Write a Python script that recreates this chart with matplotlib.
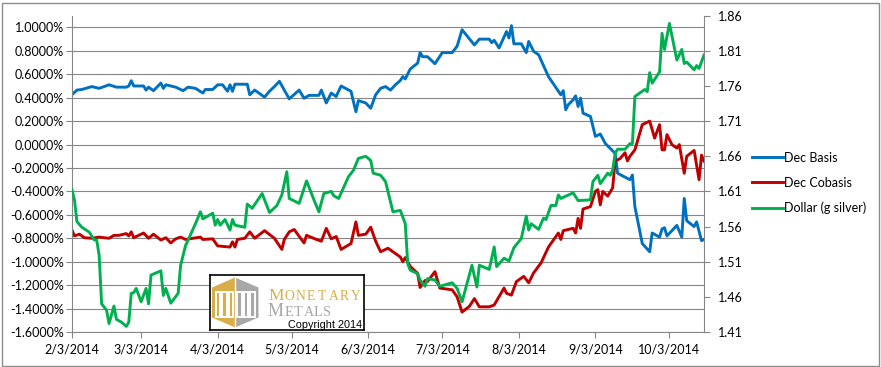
import matplotlib
matplotlib.use("Agg")
import matplotlib.pyplot as plt
from matplotlib.patches import Polygon, Rectangle
import pandas as pd

# Dec basis (percent), left axis
basis_dates = [
    "2/3", "2/5", "2/7", "2/11", "2/14", "2/18", "2/21", "2/25", "2/26", "2/27", "2/28",
    "3/4", "3/5", "3/6", "3/8", "3/11", "3/12", "3/13", "3/15", "3/17", "3/20", "3/22",
    "3/25", "3/28", "3/29", "4/1", "4/3", "4/5", "4/7", "4/8", "4/9", "4/10", "4/15",
    "4/16", "4/18", "4/22", "4/24", "4/26", "4/28", "4/30", "5/2", "5/6", "5/8", "5/10",
    "5/14", "5/15", "5/17", "5/19", "5/21", "5/23", "5/27", "5/29", "5/30", "6/2", "6/4",
    "6/6", "6/8", "6/10", "6/12", "6/14", "6/16", "6/17", "6/18", "6/20", "6/23", "6/24",
    "6/25", "6/27", "6/30", "7/3", "7/7", "7/9", "7/11", "7/16", "7/18", "7/22", "7/23",
    "7/24", "7/26", "7/29", "7/30", "7/31", "8/1", "8/4", "8/6", "8/7", "8/9", "8/11",
    "8/15", "8/20", "8/21", "8/22", "8/23", "8/25", "8/26", "8/27", "8/28", "8/29", "9/1",
    "9/3", "9/5", "9/7", "9/11", "9/12", "9/17", "9/18", "9/19", "9/22", "9/25", "9/26",
    "9/29", "9/30", "10/1", "10/2", "10/6", "10/8", "10/9", "10/10", "10/13", "10/14",
    "10/16", "10/17",
]
basis = [
    0.426, 0.465, 0.47, 0.495, 0.48, 0.51, 0.49, 0.49, 0.50, 0.545, 0.50,
    0.50, 0.465, 0.49, 0.46, 0.525, 0.48, 0.51, 0.50, 0.49, 0.46, 0.49,
    0.48, 0.44, 0.47, 0.47, 0.51, 0.51, 0.455, 0.51, 0.455, 0.515, 0.515,
    0.425, 0.465, 0.405, 0.455, 0.495, 0.54, 0.465, 0.39, 0.465, 0.395, 0.42,
    0.42, 0.465, 0.355, 0.44, 0.41, 0.50, 0.455, 0.28, 0.375, 0.355, 0.31,
    0.425, 0.48, 0.495, 0.465, 0.51, 0.547, 0.58, 0.56, 0.645, 0.695, 0.785,
    0.75, 0.75, 0.69, 0.785, 0.785, 0.84, 0.98, 0.85, 0.90, 0.90, 0.87,
    0.89, 0.825, 0.965, 0.91, 1.015, 0.86, 0.86, 0.785, 0.88, 0.795, 0.767,
    0.58, 0.425, 0.46, 0.297, 0.34, 0.382, 0.416, 0.325, 0.397, 0.268, 0.24,
    0.07, 0.09, 0.01, -0.075, -0.245, -0.30, -0.26, -0.53, -0.845, -0.915, -0.755,
    -0.79, -0.72, -0.71, -0.78, -0.69, -0.79, -0.46, -0.65, -0.70, -0.66,
    -0.82, -0.81,
]

# Dec cobasis (percent), left axis
cobasis_dates = [
    "2/3", "2/4", "2/6", "2/8", "2/11", "2/14", "2/18", "2/20", "2/22", "2/25", "2/26",
    "2/27", "2/28", "3/4", "3/6", "3/8", "3/11", "3/13", "3/15", "3/17", "3/19", "3/21",
    "3/24", "3/27", "3/28", "4/1", "4/3", "4/8", "4/9", "4/10", "4/11", "4/14", "4/16",
    "4/18", "4/22", "4/26", "4/29", "4/30", "5/2", "5/4", "5/8", "5/9", "5/13", "5/15",
    "5/17", "5/19", "5/21", "5/23", "5/27", "5/29", "5/30", "6/2", "6/4", "6/6", "6/8",
    "6/11", "6/14", "6/16", "6/17", "6/18", "6/20", "6/23", "6/24", "6/26", "6/27", "6/30",
    "7/2", "7/7", "7/9", "7/11", "7/14", "7/16", "7/18", "7/22", "7/24", "7/28", "7/29",
    "7/31", "8/2", "8/5", "8/7", "8/9", "8/12", "8/15", "8/18", "8/19", "8/20", "8/21",
    "8/25", "8/26", "8/27", "8/28", "8/29", "9/1", "9/3", "9/4", "9/5", "9/6", "9/8",
    "9/10", "9/11", "9/13", "9/15", "9/16", "9/17", "9/19", "9/22", "9/25", "9/27", "9/29",
    "9/30", "10/1", "10/2", "10/4", "10/6", "10/7", "10/9", "10/10", "10/13", "10/15",
    "10/16", "10/17",
]
cobasis = [
    -0.73, -0.78, -0.765, -0.795, -0.80, -0.79, -0.80, -0.775, -0.775, -0.76, -0.78,
    -0.745, -0.795, -0.755, -0.80, -0.765, -0.815, -0.795, -0.84, -0.805, -0.79, -0.81,
    -0.80, -0.79, -0.81, -0.805, -0.865, -0.875, -0.83, -0.875, -0.81, -0.80, -0.745,
    -0.80, -0.735, -0.80, -0.895, -0.81, -0.745, -0.725, -0.84, -0.775, -0.81, -0.825,
    -0.715, -0.805, -0.785, -0.895, -0.845, -0.66, -0.775, -0.765, -0.705, -0.825, -0.915,
    -0.885, -0.93, -0.96, -1.00, -0.965, -1.04, -1.10, -1.22, -1.16, -1.17, -1.085,
    -1.225, -1.24, -1.30, -1.43, -1.38, -1.315, -1.385, -1.385, -1.37, -1.225, -1.27,
    -1.285, -1.17, -1.125, -1.18, -1.095, -1.01, -0.875, -0.785, -0.755, -0.81, -0.735,
    -0.715, -0.755, -0.63, -0.715, -0.55, -0.53, -0.40, -0.385, -0.515, -0.40, -0.44,
    -0.37, -0.14, -0.12, -0.07, -0.14, -0.10, -0.045, 0.17, 0.20, 0.055, 0.17,
    -0.045, -0.045, 0.085, 0.0, -0.03, 0.0, -0.245, -0.10, -0.05, -0.30,
    -0.09, -0.14,
]

# Dollar priced in grams of silver, right axis
dollar_dates = [
    "2/3", "2/4", "2/5", "2/7", "2/10", "2/12", "2/13", "2/14", "2/15", "2/17", "2/18",
    "2/20", "2/21", "2/23", "2/25", "2/26", "2/27", "2/28", "3/1", "3/3", "3/5", "3/6",
    "3/7", "3/11", "3/12", "3/13", "3/15", "3/18", "3/19", "3/21", "3/25", "3/27", "3/28",
    "4/1", "4/2", "4/3", "4/4", "4/6", "4/8", "4/9", "4/10", "4/14", "4/15", "4/17",
    "4/21", "4/24", "4/27", "4/29", "5/1", "5/2", "5/6", "5/9", "5/12", "5/14", "5/16",
    "5/19", "5/20", "5/22", "5/26", "5/28", "5/30", "6/2", "6/4", "6/5", "6/8", "6/10",
    "6/13", "6/16", "6/18", "6/19", "6/20", "6/23", "6/24", "6/26", "6/27", "6/30", "7/2",
    "7/7", "7/9", "7/11", "7/13", "7/15", "7/17", "7/18", "7/22", "7/24", "7/25", "7/28",
    "7/30", "8/1", "8/4", "8/6", "8/7", "8/8", "8/11", "8/13", "8/14", "8/16", "8/18",
    "8/19", "8/20", "8/25", "8/27", "9/1", "9/2", "9/4", "9/5", "9/8", "9/9", "9/10",
    "9/11", "9/12", "9/15", "9/17", "9/18", "9/19", "9/23", "9/24", "9/25", "9/26", "9/29",
    "9/30", "10/1", "10/3", "10/6", "10/8", "10/9", "10/10", "10/13", "10/14", "10/15",
    "10/17",
]
dollar = [
    1.612, 1.598, 1.567, 1.559, 1.552, 1.541, 1.541, 1.519, 1.45, 1.441, 1.422,
    1.447, 1.428, 1.424, 1.418, 1.424, 1.465, 1.466, 1.472, 1.453, 1.472, 1.45,
    1.491, 1.497, 1.462, 1.472, 1.451, 1.465, 1.505, 1.533, 1.564, 1.581, 1.571,
    1.579, 1.562, 1.57, 1.562, 1.57, 1.555, 1.57, 1.562, 1.559, 1.592, 1.586,
    1.607, 1.58, 1.59, 1.605, 1.638, 1.60, 1.593, 1.625, 1.598, 1.581, 1.607,
    1.61, 1.604, 1.60, 1.631, 1.64, 1.657, 1.66, 1.654, 1.636, 1.633, 1.624,
    1.581, 1.583, 1.564, 1.507, 1.498, 1.493, 1.484, 1.475, 1.486, 1.484, 1.475,
    1.48, 1.472, 1.453, 1.479, 1.505, 1.474, 1.505, 1.499, 1.531, 1.503, 1.515,
    1.511, 1.53, 1.543, 1.575, 1.555, 1.564, 1.556, 1.572, 1.57, 1.59, 1.59,
    1.605, 1.60, 1.608, 1.597, 1.598, 1.624, 1.633, 1.621, 1.636, 1.633, 1.64,
    1.664, 1.67, 1.67, 1.678, 1.678, 1.745, 1.755, 1.752, 1.779, 1.764, 1.78,
    1.835, 1.812, 1.849, 1.797, 1.812, 1.792, 1.794, 1.783, 1.789, 1.785,
    1.804,
]

tick_labels = ["2/3/2014", "3/3/2014", "4/3/2014", "5/3/2014", "6/3/2014",
               "7/3/2014", "8/3/2014", "9/3/2014", "10/3/2014"]
left_ticks = [-1.6, -1.4, -1.2, -1.0, -0.8, -0.6, -0.4, -0.2, 0.0, 0.2, 0.4, 0.6, 0.8, 1.0]
right_ticks = [1.41, 1.46, 1.51, 1.56, 1.61, 1.66, 1.71, 1.76, 1.81, 1.86]


def to_dates(days):
    return pd.to_datetime(["2014/" + d for d in days], format="%Y/%m/%d")


plt.rcParams["font.family"] = ["Lato", "DejaVu Sans"]

W, H = 881, 367
fig = plt.figure(figsize=(W / 100, H / 100), dpi=100)
fig.patch.set_facecolor("white")
fig.add_artist(Rectangle((1.5 / W, 1.5 / H), (W - 4) / W, (H - 4) / H,
                         transform=fig.transFigure, fill=False,
                         edgecolor="#8c8c8c", linewidth=1))

grid_color = "#868686"
ax = fig.add_axes([72 / W, 1 - 332 / H, 632 / W, 316.3 / H])
ax2 = ax.twinx()

l1, = ax.plot(to_dates(basis_dates), basis, color="#0070C0", linewidth=2.1,
              label="Dec Basis", solid_joinstyle="round")
l2, = ax.plot(to_dates(cobasis_dates), cobasis, color="#C00000", linewidth=2.1,
              label="Dec Cobasis", solid_joinstyle="round")
l3, = ax2.plot(to_dates(dollar_dates), dollar, color="#00B050", linewidth=2.1,
               label="Dollar (g silver)", solid_joinstyle="round")

ax.set_xlim(pd.Timestamp("2014-02-03"), pd.Timestamp("2014-10-17"))
ax.set_ylim(-1.6, 1.1)
ax2.set_ylim(1.41, 1.86)

ax.set_yticks(left_ticks)
ax.set_yticklabels([f"{v:.4f}%" for v in left_ticks])
ax2.set_yticks(right_ticks)
ax2.set_yticklabels([f"{v:.2f}" for v in right_ticks])
ax.set_xticks(pd.to_datetime(tick_labels, format="%m/%d/%Y"))
ax.set_xticklabels(tick_labels)

ax.grid(axis="y", color=grid_color, linewidth=0.8)
ax.set_axisbelow(True)
for a in (ax, ax2):
    for s in a.spines.values():
        s.set_visible(False)
ax.spines["left"].set_visible(True)
ax.spines["bottom"].set_visible(True)
ax2.spines["right"].set_visible(True)
for s in ("left", "bottom"):
    ax.spines[s].set_color(grid_color)
ax2.spines["right"].set_color(grid_color)

ax.tick_params(axis="y", direction="out", length=4, color=grid_color,
               labelsize=9, pad=2, labelcolor="black")
ax.tick_params(axis="x", direction="out", length=4, color=grid_color,
               labelsize=9, pad=4, labelcolor="black")
ax2.tick_params(axis="y", direction="out", length=4, color=grid_color,
                labelsize=9, pad=6, labelcolor="black")

fig.legend(handles=[l1, l2, l3], loc="center left",
           bbox_to_anchor=(752 / W, 1 - 183 / H), frameon=False,
           fontsize=9, handlelength=2.5, handletextpad=0.1, labelspacing=1.05,
           borderpad=0, borderaxespad=0)

# logo box
lx0, lx1, ly0, ly1 = 210, 364, 275, 330
lax = fig.add_axes([lx0 / W, 1 - ly1 / H, (lx1 - lx0) / W, (ly1 - ly0) / H])
lax.set_xlim(lx0, lx1)
lax.set_ylim(ly1, ly0)
lax.set_xticks([])
lax.set_yticks([])
lax.set_facecolor("white")
for s in lax.spines.values():
    s.set_color("black")
    s.set_linewidth(1.2)
lax.set_zorder(5)

gold = "#D8AE48"
grey = "#A8A8A8"
cx = 235
lax.add_patch(Polygon([(cx, 277.5), (212, 287.5), (212, 317.5), (cx, 327.5)],
                      closed=True, facecolor=gold, edgecolor="none"))
lax.add_patch(Polygon([(cx, 277.5), (258.5, 287.5), (258.5, 317.5), (cx, 327.5)],
                      closed=True, facecolor=grey, edgecolor="none"))
for x0 in (216, 222.5, 229, 237.5, 244, 250.5):
    lax.add_patch(Rectangle((x0, 292), 4.2, 25, facecolor="none",
                            edgecolor="white", linewidth=1.4))
lax.plot([cx, cx], [277.5, 327.5], color="white", linewidth=1.0)

serif = ["Liberation Serif", "DejaVu Serif"]
lax.text(268, 300.5, "M", color=gold, fontsize=12.5, family=serif, va="baseline")
for i, ch in enumerate("ONETARY"):
    lax.text(284.5 + i * 11.0, 300.5, ch, color=gold, fontsize=9.8, family=serif,
             va="baseline")
lax.text(268, 316, "M", color=grey, fontsize=13, family=serif, va="baseline")
for i, ch in enumerate("ETALS"):
    lax.text(284.5 + i * 9.6, 316, ch, color=grey, fontsize=10.2, family=serif,
             va="baseline")
lax.text(288, 327.5, "Copyright 2014", color="black", fontsize=7.8,
         family=["Liberation Sans", "DejaVu Sans"], va="baseline")

fig.savefig("out.png", dpi=100)
